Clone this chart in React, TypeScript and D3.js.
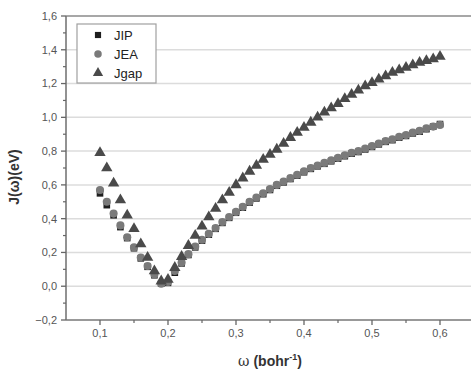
import React from "react";
import * as d3 from "d3";

const omega: number[] = Array.from({ length: 51 }, (_, i) => +(0.1 + i * 0.01).toFixed(2));

const jip: number[] = [
  0.55, 0.48, 0.42, 0.35, 0.285, 0.225, 0.165, 0.115, 0.065, 0.015,
  0.02, 0.08, 0.135, 0.185, 0.23, 0.27, 0.305, 0.34, 0.375, 0.405,
  0.435, 0.465, 0.495, 0.52, 0.545, 0.57, 0.595, 0.615, 0.635, 0.655,
  0.675, 0.695, 0.71, 0.725, 0.74, 0.755, 0.77, 0.785, 0.795, 0.81,
  0.825, 0.84, 0.855, 0.865, 0.88, 0.89, 0.905, 0.915, 0.93, 0.945, 0.96,
];

const jea: number[] = [
  0.57, 0.5, 0.43, 0.36, 0.29, 0.23, 0.17, 0.12, 0.07, 0.015,
  0.025, 0.09, 0.14, 0.19, 0.235, 0.275, 0.31, 0.345, 0.38, 0.41,
  0.44, 0.47, 0.5, 0.525, 0.55, 0.575, 0.6, 0.62, 0.64, 0.66,
  0.68, 0.7, 0.715, 0.73, 0.745, 0.76, 0.775, 0.79, 0.8, 0.815,
  0.83, 0.845, 0.86, 0.87, 0.885, 0.895, 0.91, 0.92, 0.935, 0.945, 0.955,
];

const jgap: number[] = [
  0.79, 0.7, 0.61, 0.51, 0.42, 0.34, 0.25, 0.17, 0.09, 0.03,
  0.04, 0.11, 0.175, 0.24, 0.3, 0.355, 0.41, 0.46, 0.51, 0.555,
  0.6, 0.64, 0.68, 0.715, 0.75, 0.78, 0.81, 0.845, 0.88, 0.91,
  0.94, 0.97, 1.0, 1.03, 1.055, 1.08, 1.11, 1.135, 1.16, 1.185,
  1.205, 1.225, 1.245, 1.265, 1.28, 1.295, 1.31, 1.325, 1.335, 1.345, 1.36,
];

const xTicks: number[] = [0.1, 0.2, 0.3, 0.4, 0.5, 0.6];
const xMinorTicks: number[] = [0.15, 0.25, 0.35, 0.45, 0.55];
const yTicks: number[] = [-0.2, 0, 0.2, 0.4, 0.6, 0.8, 1.0, 1.2, 1.4, 1.6];
const yMinorTicks: number[] = [-0.1, 0.1, 0.3, 0.5, 0.7, 0.9, 1.1, 1.3, 1.5];
const seriesNames: string[] = ["JIP", "JEA", "Jgap"];

const W = 471;
const H = 373;
const L = 66;
const T = 16;
const B = 320;

const fmt = (v: number) => d3.format(".1f")(v).replace(".", ",").replace("-0,0", "0,0");

export default function App() {
  const x = d3.scaleLinear().domain([0.05, 0.65]).range([L, L + 0.6 * 680]);
  const y = d3.scaleLinear().domain([-0.2, 1.6]).range([B, T]);

  const sq = d3.symbol().type(d3.symbolSquare).size(44)()!;
  const ci = d3.symbol().type(d3.symbolCircle).size(52)()!;
  const tr = d3.symbol().type(d3.symbolTriangle).size(56)()!;
  const sqL = d3.symbol().type(d3.symbolSquare).size(38)()!;
  const ciL = d3.symbol().type(d3.symbolCircle).size(44)()!;
  const trL = d3.symbol().type(d3.symbolTriangle).size(46)()!;

  const series = [
    { name: seriesNames[0], data: jip, path: sq, lpath: sqL, color: "#1e1e1e" },
    { name: seriesNames[1], data: jea, path: ci, lpath: ciL, color: "#7a7a7a" },
    { name: seriesNames[2], data: jgap, path: tr, lpath: trL, color: "#4a4a4a" },
  ];

  const font = "Liberation Sans, Arial, sans-serif";

  return (
    <svg
      width={W}
      height={H}
      style={{ position: "absolute", left: 0, top: 0, background: "#fff" }}
      fontFamily={font}
    >
      <rect x={0} y={0} width={W} height={H} fill="#fff" />
      {yTicks.slice(1, -1).map((t) => (
        <line key={"g" + t} x1={L} x2={W} y1={y(t)} y2={y(t)} stroke="#dcdcdc" strokeWidth={1.5} />
      ))}
      <line x1={L} x2={W} y1={T} y2={T} stroke="#8a8a8a" strokeWidth={1.6} />
      <line x1={L} x2={W} y1={B} y2={B} stroke="#777" strokeWidth={1.6} />
      <line x1={L} x2={L} y1={T} y2={B} stroke="#777" strokeWidth={1.6} />
      {yTicks.map((t) => (
        <g key={"yt" + t}>
          <line x1={L - 5} x2={L} y1={y(t)} y2={y(t)} stroke="#666" strokeWidth={1.3} />
          <text x={L - 9} y={y(t)} dy="0.35em" textAnchor="end" fontSize={11} fill="#555">
            {fmt(t)}
          </text>
        </g>
      ))}
      {yMinorTicks.map((t) => (
        <line key={"ym" + t} x1={L - 3} x2={L} y1={y(t)} y2={y(t)} stroke="#666" strokeWidth={1.2} />
      ))}
      {xTicks.map((t) => (
        <g key={"xt" + t}>
          <line x1={x(t)} x2={x(t)} y1={B} y2={B + 5} stroke="#666" strokeWidth={1.3} />
          <text x={x(t)} y={B + 17} textAnchor="middle" fontSize={11} fill="#555">
            {fmt(t)}
          </text>
        </g>
      ))}
      {xMinorTicks.map((t) => (
        <line key={"xm" + t} x1={x(t)} x2={x(t)} y1={B} y2={B + 3} stroke="#666" strokeWidth={1.2} />
      ))}
      {series.map((s) => (
        <g key={s.name} fill={s.color}>
          {s.data.map((v, i) => (
            <path key={i} d={s.path} transform={`translate(${x(omega[i])},${y(v)})`} />
          ))}
        </g>
      ))}
      <rect x={77} y={24} width={79} height={59} fill="#fff" stroke="#a0a0a0" strokeWidth={1.2} />
      {series.map((s, i) => (
        <g key={"lg" + s.name}>
          <path d={s.lpath} fill={s.color} transform={`translate(98,${35 + i * 19})`} />
          <text x={114} y={35 + i * 19} dy="0.36em" fontSize={13} fill="#222">
            {s.name}
          </text>
        </g>
      ))}
      <text
        transform={`translate(19,${177}) rotate(-90)`}
        textAnchor="middle"
        fontSize={14}
        fontWeight="bold"
        fill="#333"
      >
        J(ω)(eV)
      </text>
      <text x={270} y={366} textAnchor="middle" fontSize={14} fill="#333">
        <tspan fontFamily="DejaVu Serif, serif" fontWeight="normal">ω</tspan>
        <tspan fontWeight="bold"> (bohr</tspan>
        <tspan fontWeight="bold" fontSize={9} dy={-6}>-1</tspan>
        <tspan fontWeight="bold" dy={6}>)</tspan>
      </text>
    </svg>
  );
}
